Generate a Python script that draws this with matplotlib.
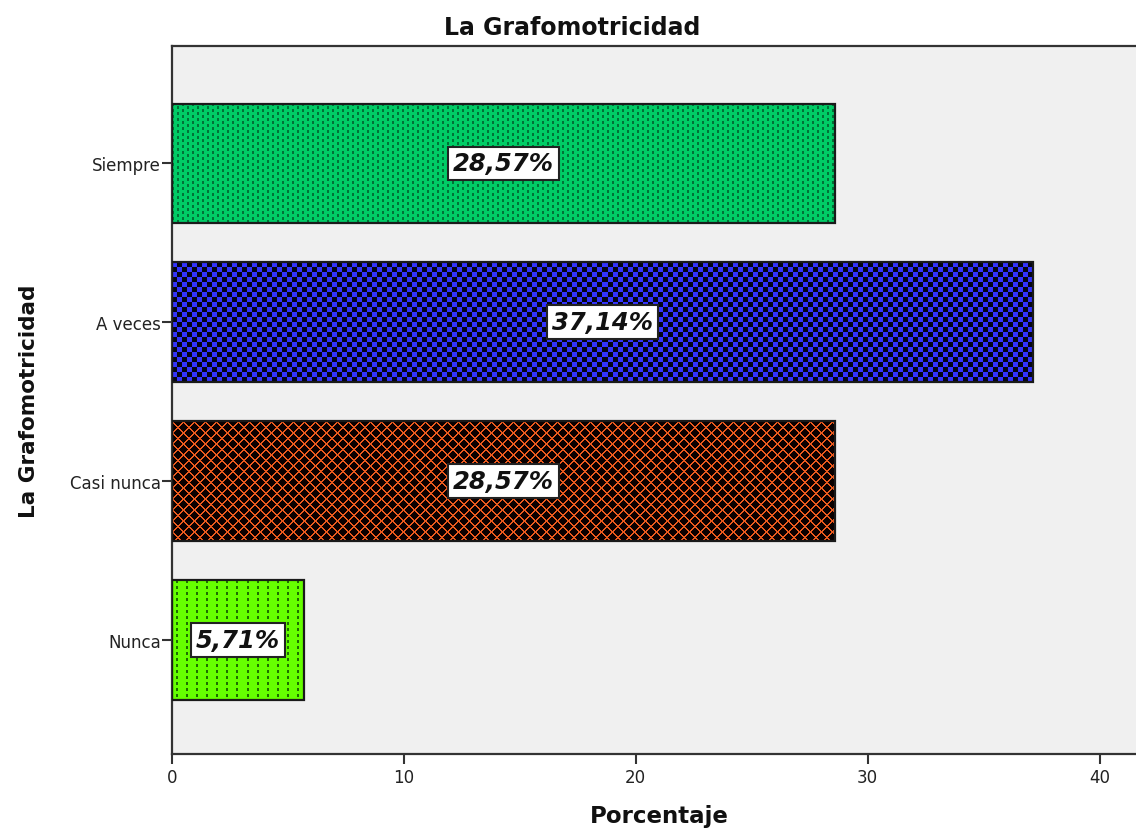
import numpy as np
import matplotlib
matplotlib.use('Agg')
import matplotlib.pyplot as plt

categories = ['Nunca', 'Casi nunca', 'A veces', 'Siempre']
percentages = [5.71, 28.57, 37.14, 28.57]
bar_labels = ['5,71%', '28,57%', '37,14%', '28,57%']
x_ticks = [0, 10, 20, 30, 40]
title = 'La Grafomotricidad'
xlabel = 'Porcentaje'
ylabel = 'La Grafomotricidad'

plt.rcParams['font.family'] = ['DejaVu Sans']

W, H = 1136, 829
fig = plt.figure(figsize=(W / 100, H / 100), dpi=100)
fig.patch.set_facecolor('white')
left, right, top, bottom = 172, 1146, 47, 755
ax = fig.add_axes([left / W, 1 - bottom / H, (right - left) / W, (bottom - top) / H])
ax.set_facecolor('#F0F0F0')
XMAX = 42.0
YLIM = (-0.72, 3.74)
ax.set_xlim(0, XMAX)
ax.set_ylim(*YLIM)


def tile_blue(h, w):
    i, j = np.mgrid[0:h, 0:w]
    m = ((i // 5) + (j // 5)) % 2 == 0
    img = np.zeros((h, w, 3))
    img[m] = np.array([51, 51, 255]) / 255
    img[~m] = np.array([5, 5, 20]) / 255
    return img


def tile_green(h, w):
    i, j = np.mgrid[0:h, 0:w]
    col = j // 5
    m = ((j % 5) < 2) & (((i + 3 * (col % 2)) % 6) < 3)
    img = np.zeros((h, w, 3))
    img[:] = np.array([0, 204, 102]) / 255
    img[m] = np.array([0, 115, 55]) / 255
    return img


def tile_lime(h, w):
    i, j = np.mgrid[0:h, 0:w]
    m = ((j % 10) >= 4) & ((j % 10) < 6) & ((i % 6) < 3)
    img = np.zeros((h, w, 3))
    img[:] = np.array([102, 255, 0]) / 255
    img[m] = np.array([30, 110, 0]) / 255
    return img


def tile_orange(h, w):
    i, j = np.mgrid[0:h, 0:w]
    m = (((i + j) % 11) < 2) | (((i - j) % 11) < 2)
    img = np.zeros((h, w, 3))
    img[:] = np.array([10, 0, 0]) / 255
    img[m] = np.array([235, 90, 30]) / 255
    return img


tiles = [tile_lime, tile_orange, tile_blue, tile_green]
ypos = np.arange(len(categories))
bars = ax.barh(ypos, percentages, height=0.755, color='none',
               edgecolor='#1a1a1a', linewidth=1.6, zorder=3)

for bar, tf in zip(bars, tiles):
    bb = bar.get_window_extent()
    w = max(1, int(round(bb.width)))
    h = max(1, int(round(bb.height)))
    ext = [bar.get_x(), bar.get_x() + bar.get_width(),
           bar.get_y(), bar.get_y() + bar.get_height()]
    im = ax.imshow(tf(h, w), extent=ext, origin='upper', aspect='auto',
                   interpolation='nearest', zorder=2)
    im.set_clip_path(bar)

ax.set_xlim(0, XMAX)
ax.set_ylim(*YLIM)

for y, v, lab in zip(ypos, percentages, bar_labels):
    ax.text(v / 2, y, lab, ha='center', va='center', fontsize=17.5,
            fontweight='bold', fontstyle='italic', color='#111111', zorder=5,
            bbox=dict(boxstyle='square,pad=0.2', facecolor='white',
                      edgecolor='#222222', linewidth=1.5))

ax.set_yticks(ypos)
ax.set_yticklabels(categories)
ax.set_xticks(x_ticks)
ax.set_xticklabels([str(t) for t in x_ticks])
ax.tick_params(axis='both', direction='out', length=7, width=1.5,
               color='#333333', labelsize=12, labelcolor='#222222')
ax.tick_params(axis='y', pad=1)
ax.tick_params(axis='x', pad=3)

for s in ['left', 'bottom', 'top']:
    ax.spines[s].set_color('#333333')
    ax.spines[s].set_linewidth(1.6)
ax.spines['right'].set_visible(False)

fig.text(572 / W, 1 - 28 / H, title, ha='center', va='center',
         fontsize=17, fontweight='bold', color='#111111')
ax.set_xlabel(xlabel, fontsize=16.5, fontweight='bold', color='#111111', labelpad=13)
ax.set_ylabel(ylabel, fontsize=15.5, fontweight='bold', color='#111111', labelpad=22)

fig.savefig('out.png', dpi=100)
